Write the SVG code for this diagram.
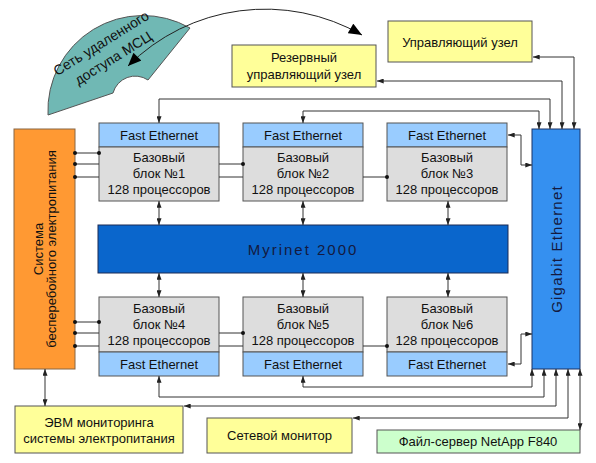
<svg xmlns="http://www.w3.org/2000/svg" width="596" height="463" viewBox="0 0 596 463">
<defs>
<style>
text{font-family:"Liberation Sans",Arial,sans-serif;font-size:13px;fill:#111;text-anchor:middle}
.y{fill:#ffff99;stroke:#555;stroke-width:1}
.hdr{fill:#99ccff;stroke:#555;stroke-width:1}
.body{fill:#dddddd;stroke:#555;stroke-width:1}
.c{fill:none;stroke:#333;stroke-width:1}
.ar{marker-start:url(#a);marker-end:url(#a)}
.dot{fill:#111}
.big{font-size:15px;fill:#141a40;letter-spacing:2px}
</style>
<marker id="a" viewBox="0 0 8 6" refX="8" refY="3" markerWidth="7" markerHeight="5" orient="auto-start-reverse" markerUnits="userSpaceOnUse"><path d="M0,0L8,3L0,6z" fill="#222"/></marker>
<marker id="b" viewBox="0 0 12 10" refX="12" refY="5" markerWidth="14" markerHeight="11" orient="auto-start-reverse" markerUnits="userSpaceOnUse"><path d="M0,0L12,5L0,10z" fill="#000"/></marker>
</defs>
<rect width="596" height="463" fill="#fff"/>

<g id="fan">
<path d="M48,115 L113,93 A23,23 0 0 1 148,80 L190,28 A95,95 0 0 0 48,115 Z" fill="#70b8b4" stroke="#555"/>
<text transform="translate(101,43) rotate(-32)" y="5" style="font-size:14px">Сеть удаленного</text>
<text transform="translate(113,58) rotate(-32)" y="5" style="font-size:14px">доступа МСЦ</text>
</g>

<g id="reserve">
<rect class="y" x="232" y="45" width="144" height="42"/>
<text x="304" y="61.5">Резервный</text>
<text x="304" y="78.5">управляющий узел</text>
</g>

<g id="control">
<rect class="y" x="388" y="21" width="144" height="41"/>
<text x="460" y="46.5">Управляющий узел</text>
</g>

<g id="ups">
<rect x="14" y="129" width="61" height="240" fill="#ff9933" stroke="#886644"/>
<text transform="translate(38,249) rotate(-90)" y="4.5">Система</text>
<text transform="translate(51,249) rotate(-90)" y="4.5">бесперебойного электропитания</text>
</g>

<g id="block1">
<rect class="hdr" x="99" y="123" width="120" height="24"/>
<rect class="body" x="99" y="147" width="120" height="54"/>
<text x="159" y="139.5">Fast Ethernet</text>
<text x="159" y="161.5">Базовый</text>
<text x="159" y="177.5">блок №1</text>
<text x="159" y="193.5">128 процессоров</text>
</g>
<g id="block2">
<rect class="hdr" x="243" y="123" width="120" height="24"/>
<rect class="body" x="243" y="147" width="120" height="54"/>
<text x="303" y="139.5">Fast Ethernet</text>
<text x="303" y="161.5">Базовый</text>
<text x="303" y="177.5">блок №2</text>
<text x="303" y="193.5">128 процессоров</text>
</g>
<g id="block3">
<rect class="hdr" x="387" y="123" width="120" height="24"/>
<rect class="body" x="387" y="147" width="120" height="54"/>
<text x="447" y="139.5">Fast Ethernet</text>
<text x="447" y="161.5">Базовый</text>
<text x="447" y="177.5">блок №3</text>
<text x="447" y="193.5">128 процессоров</text>
</g>

<g id="myrinet">
<rect x="98" y="225" width="410" height="48" fill="#0a66cc" stroke="#1a2a55"/>
<text class="big" x="303" y="254.5">Myrinet 2000</text>
</g>

<g id="block4">
<rect class="body" x="99" y="297" width="120" height="55"/>
<rect class="hdr" x="99" y="352" width="120" height="24"/>
<text x="159" y="312.5">Базовый</text>
<text x="159" y="328.5">блок №4</text>
<text x="159" y="344.5">128 процессоров</text>
<text x="159" y="368.5">Fast Ethernet</text>
</g>
<g id="block5">
<rect class="body" x="243" y="297" width="120" height="55"/>
<rect class="hdr" x="243" y="352" width="120" height="24"/>
<text x="303" y="312.5">Базовый</text>
<text x="303" y="328.5">блок №5</text>
<text x="303" y="344.5">128 процессоров</text>
<text x="303" y="368.5">Fast Ethernet</text>
</g>
<g id="block6">
<rect class="body" x="387" y="297" width="120" height="55"/>
<rect class="hdr" x="387" y="352" width="120" height="24"/>
<text x="447" y="312.5">Базовый</text>
<text x="447" y="328.5">блок №6</text>
<text x="447" y="344.5">128 процессоров</text>
<text x="447" y="368.5">Fast Ethernet</text>
</g>

<g id="gigabit">
<rect x="532" y="129" width="48" height="240" fill="#3590f0" stroke="#1a3366"/>
<text class="big" transform="translate(556,249) rotate(-90)" y="5.5" style="letter-spacing:1.2px">Gigabit Ethernet</text>
</g>

<g id="evm">
<rect class="y" x="15" y="406" width="168" height="47"/>
<text x="99" y="426.5">ЭВМ мониторинга</text>
<text x="99" y="442.5">системы электропитания</text>
</g>
<g id="netmon">
<rect class="y" x="207" y="418" width="145" height="35"/>
<text x="279.5" y="440">Сетевой монитор</text>
</g>
<g id="fileserver">
<rect x="377" y="430" width="203" height="23" fill="#ccffcc" stroke="#555"/>
<text x="478" y="446">Файл-сервер NetApp F840</text>
</g>

<g id="connectors">
<path d="M128,66 A194,194 0 0 1 362,35" fill="none" stroke="#222" stroke-width="1" marker-start="url(#b)" marker-end="url(#b)"/>
<path class="c" d="M75,153H99M75,164H99M75,177H99M219,164H243M219,177H243M363,177H387"/>
<path class="c" d="M75,322H99M75,333H99M75,346H99M219,333H243M219,346H243M363,346H387"/>
<g class="dot">
<circle cx="75" cy="153" r="2"/><circle cx="75" cy="164" r="2"/><circle cx="75" cy="177" r="2"/><circle cx="99" cy="153" r="2"/>
<circle cx="243" cy="164" r="2"/><circle cx="387" cy="177" r="2"/>
<circle cx="75" cy="322" r="2"/><circle cx="75" cy="333" r="2"/><circle cx="75" cy="346" r="2"/><circle cx="99" cy="322" r="2"/>
<circle cx="243" cy="333" r="2"/><circle cx="387" cy="346" r="2"/>
</g>
<path class="c ar" d="M159,201V225"/>
<path class="c ar" d="M303,201V225"/>
<path class="c ar" d="M448,201V225"/>
<path class="c ar" d="M159,273V297"/>
<path class="c ar" d="M303,273V297"/>
<path class="c ar" d="M448,273V297"/>
<path class="c ar" d="M533,57H574V129"/>
<path class="c ar" d="M377,81H562V129"/>
<path class="c ar" d="M159,123V99H550V129"/>
<path class="c ar" d="M303,123V111H539V129"/>
<path class="c ar" d="M508,135H521V165H532"/>
<path class="c ar" d="M508,364H521V334H532"/>
<path class="c ar" d="M303,376V387H532V369"/>
<path class="c ar" d="M159,376V397H544V369"/>
<path class="c ar" d="M184,406H556V369"/>
<path class="c ar" d="M353,418H568V369"/>
<path class="c ar" d="M580,369V430"/>
<path class="c ar" d="M45,369V406"/>
</g>
</svg>
